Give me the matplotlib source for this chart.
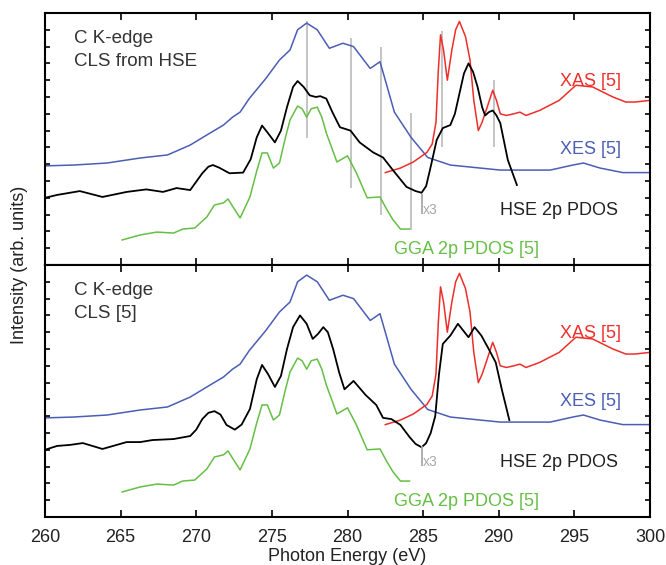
import matplotlib
matplotlib.use('Agg')
import matplotlib.pyplot as plt

# XES (shared by both panels)
xes_e = [260.0, 261.9, 264.1, 266.3, 268.1, 269.6, 270.7, 271.8, 272.4, 272.9, 273.5, 274.6, 275.5, 276.2,
         276.7, 277.3, 278.0, 278.8, 279.7, 280.4, 281.5, 282.15, 283.1, 284.2, 285.3, 286.8, 290.1, 293.4,
         294.9, 295.6, 296.7, 298.2, 300.0]
xes_i = [5.9, 5.95, 6.07, 6.37, 6.55, 7.14, 7.74, 8.33, 8.8, 9.1, 9.9, 11.1, 12.2, 12.8,
         14.0, 14.4, 14.0, 12.9, 13.2, 13.0, 11.7, 12.1, 9.1, 7.6, 6.4, 5.95, 5.65, 5.65,
         5.95, 6.07, 5.77, 5.5, 5.5]

# XAS (shared)
xas_e = [282.5, 283.5, 284.35, 285.25, 285.6, 285.85, 286.0, 286.15, 286.35, 286.6, 286.9, 287.15, 287.4,
         287.8, 288.1, 288.35, 288.65, 288.9, 289.2, 289.6, 289.85, 290.1, 290.5, 291.0, 291.4, 291.8,
         292.7, 294.0, 295.1, 296.2, 297.55, 298.4, 299.0, 300.0]
xas_i = [5.5, 5.77, 6.13, 6.7, 7.2, 8.5, 11.5, 13.7, 12.8, 11.0, 12.8, 14.0, 14.5,
         13.6, 12.2, 9.8, 8.0, 8.5, 9.3, 10.4, 9.8, 9.0, 8.9, 9.0, 9.1, 8.9,
         9.2, 9.8, 10.7, 10.6, 10.0, 9.7, 9.7, 9.8]

# GGA 2p PDOS [5] (shared)
gga_e = [265.1, 266.3, 267.4, 268.5, 269.1, 269.9, 270.7, 271.2, 271.8, 272.1, 272.4, 272.9, 273.55, 274.0,
         274.35, 274.7, 275.1, 275.5, 275.9, 276.2, 276.7, 277.0, 277.3, 277.6, 278.0, 278.3, 278.6, 279.3,
         280.0, 280.6, 281.3, 282.15, 282.6, 283.0, 283.5, 284.1]
gga_i = [1.49, 1.79, 1.96, 1.9, 2.14, 2.2, 2.86, 3.57, 3.7, 3.93, 3.5, 2.8, 4.05, 5.6,
         6.67, 6.67, 5.77, 6.07, 7.6, 8.63, 9.46, 9.3, 8.8, 9.3, 9.4, 8.8, 7.86, 6.13,
         6.5, 5.46, 4.0, 4.05, 3.3, 2.7, 2.14, 2.14]

# HSE 2p PDOS, CLS from HSE (top)
hse_e = [260.0, 260.8, 262.3, 263.8, 265.4, 266.7, 267.8, 268.7, 269.6, 270.4, 270.8, 271.1, 271.5, 272.2,
         273.1, 273.6, 274.0, 274.35, 274.7, 275.2, 275.6, 276.0, 276.4, 276.7, 277.1, 277.5, 277.9, 278.2,
         278.6, 279.0, 279.5, 280.2, 280.8, 281.7, 282.35, 283.0, 283.9, 284.5, 284.9, 285.2, 285.45, 285.9,
         286.3, 286.8, 287.1, 287.4, 287.7, 288.0, 288.3, 288.6, 288.9, 289.1, 289.35, 289.6, 289.85, 290.1,
         290.6, 291.2]
hse_i = [4.0, 4.17, 4.4, 4.05, 4.35, 4.5, 4.35, 4.58, 4.46, 5.46, 5.85, 5.95, 5.8, 5.46,
         5.5, 6.3, 7.6, 8.3, 7.9, 7.3, 8.0, 9.4, 10.6, 10.95, 10.6, 10.1, 10.0, 10.05,
         9.9, 9.1, 8.2, 8.0, 7.3, 6.7, 6.4, 5.65, 4.65, 4.4, 4.3, 4.7, 5.65, 7.45,
         8.15, 8.33, 9.0, 10.2, 11.4, 12.0, 11.5, 10.6, 9.4, 8.9, 9.1, 9.2, 8.9, 8.45,
         6.25, 4.76]

# HSE 2p PDOS, CLS [5] (bottom)
cls_e = [260.0, 260.8, 261.65, 262.5, 263.8, 265.4, 266.3, 267.1, 268.5, 269.6, 270.0, 270.4, 270.8, 271.2,
         271.6, 272.0, 272.55, 273.0, 273.55, 274.0, 274.35, 274.75, 275.2, 275.6, 276.0, 276.4, 276.86,
         277.3, 277.7, 278.05, 278.4, 278.7, 279.05, 279.45, 279.8, 280.4, 281.2, 281.9, 282.35, 282.9,
         283.5, 284.1, 284.5, 284.9, 285.2, 285.5, 285.8, 286.05, 286.3, 286.8, 287.3, 287.65, 288.0,
         288.4, 288.85, 289.3, 289.8, 290.2, 290.7]
cls_i = [4.0, 4.23, 4.29, 4.4, 4.05, 4.46, 4.46, 4.58, 4.64, 4.82, 5.2, 5.83, 6.2, 6.3,
         6.1, 5.48, 5.2, 5.5, 6.43, 8.2, 9.05, 8.5, 7.74, 8.4, 10.0, 11.3, 12.0,
         11.5, 10.6, 10.9, 11.3, 11.0, 10.0, 8.6, 7.6, 8.1, 7.26, 6.67, 5.9, 5.83,
         5.48, 4.76, 4.35, 4.15, 4.4, 5.0, 6.0, 8.5, 10.3, 10.8, 11.5, 11.1, 10.7,
         11.3, 10.8, 10.06, 9.2, 7.6, 5.77]

# gray guide lines in the top panel
guide_e = [277.3, 280.2, 282.2, 284.2, 286.25, 289.7]
guide_lo = [7.56, 4.6, 3.0, 2.1, 7.0, 7.0]
guide_hi = [14.5, 13.5, 13.0, 9.05, 13.9, 11.0]

blue = '#4b5db5'
red = '#ee2e2a'
green = '#66bf45'
gray = '#c4c4c4'

plt.rcParams['font.family'] = ['Liberation Sans', 'DejaVu Sans']
plt.rcParams['font.size'] = 13

dpi = 100
fig = plt.figure(dpi=dpi, figsize=(666 / dpi, 565 / dpi))
ax1 = fig.add_axes([45 / 666, 1 - 265 / 565, 605 / 666, 252 / 565])
ax2 = fig.add_axes([45 / 666, 1 - 517 / 565, 605 / 666, 252 / 565])

panels = [(ax1, hse_e, hse_i, 'C K-edge\nCLS from HSE'), (ax2, cls_e, cls_i, 'C K-edge\nCLS [5]')]
for ax, be, bi, title in panels:
    ax.set_xlim(260, 300)
    ax.set_ylim(0, 15)
    ax.plot(xes_e, xes_i, color=blue, lw=1.1)
    ax.plot(gga_e, gga_i, color=green, lw=1.1)
    ax.plot(xas_e, xas_i, color=red, lw=1.1)
    ax.plot(be, bi, color='black', lw=1.3)
    ax.vlines(284.9, 3.05, 4.2, color='#a8a8a8', lw=1.3)
    ax.text(285.0, 3.25, 'x3', color='#a8a8a8', fontsize=10, va='center')
    ax.text(261.9, 12.8, title, color='#333333', fontsize=13.5, va='center', linespacing=1.45)
    ax.text(294.05, 10.9, 'XAS [5]', color=red, va='center')
    ax.text(294.05, 6.9, 'XES [5]', color=blue, va='center')
    ax.text(290.1, 3.25, 'HSE 2p PDOS', color='#222222', va='center')
    ax.text(283.1, 0.95, 'GGA 2p PDOS [5]', color=green, va='center')
    ax.set_xticks(range(260, 301, 5))
    ax.set_yticks(range(1, 15))
    ax.tick_params(axis='x', direction='in', top=True, length=5, width=1.2, pad=9, labelcolor='#222222')
    ax.tick_params(axis='y', direction='in', right=True, length=3.5, width=1.2, labelleft=False)
    for s in ax.spines.values():
        s.set_linewidth(1.5)

ax1.vlines(guide_e, guide_lo, guide_hi, color=gray, lw=1.4, zorder=0)
ax1.tick_params(axis='x', labelbottom=False)

ax2.set_xlabel('Photon Energy (eV)', labelpad=1, color='#222222')
fig.text(20 / 666, 1 - 265 / 565, 'Intensity (arb. units)', rotation=90, ha='center', va='center',
         color='#222222')

fig.savefig('out.png')
